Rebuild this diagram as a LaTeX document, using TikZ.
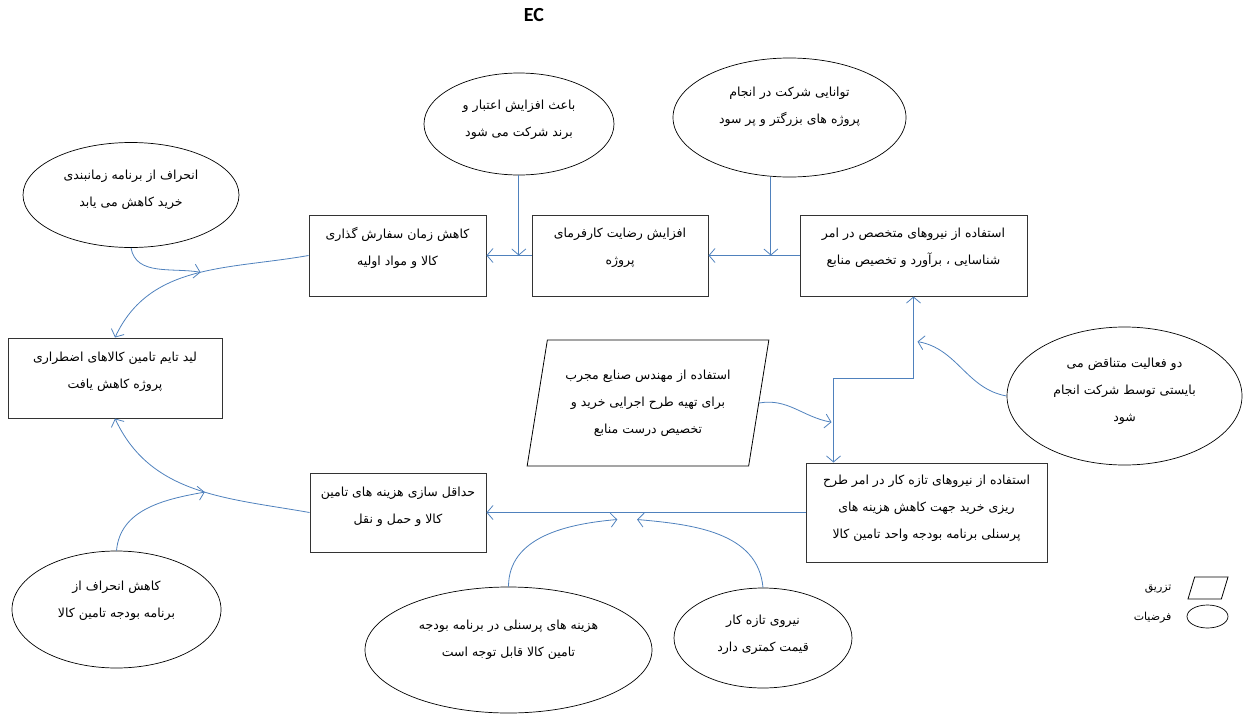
\documentclass[tikz,border=0pt]{standalone}
\usepackage{fontspec}
\newfontfamily\arabicfont[Script=Arabic]{DejaVu Sans}
\newfontfamily\titlefont{Carlito}
\TeXXeTstate=1
\newcommand{\rtlline}[1]{\beginR #1\endR}
\usetikzlibrary{shapes.geometric,arrows.meta}
\definecolor{linkblue}{RGB}{79,129,189}
\tikzset{
  fatext/.style={font=\arabicfont\fontsize{12.5}{27}\selectfont,align=center},
  box/.style={draw=black!80,line width=1pt,rectangle,fatext,inner sep=2pt},
  hyp/.style={draw,line width=0.7pt,ellipse,fatext,inner sep=0pt},
  inject/.style={draw,line width=0.8pt,trapezium,trapezium left angle=76,
    trapezium right angle=104,trapezium stretches=true,fatext,inner sep=0pt},
  link/.style={linkblue,line width=0.8pt,->},
  >={Straight Barb[length=6pt,width=14pt]}
}
\begin{document}
\begin{tikzpicture}[x=1pt,y=1pt]
  \useasboundingbox (0,0) rectangle (1243,-715);
  \node [font=\titlefont\bfseries\fontsize{20}{24}\selectfont] (title) at (534,-15) {EC};
  % top row
  \node [hyp,text depth=13pt,minimum width=216,minimum height=105] (E1) at (131,-195)
    {\rtlline{انحراف از برنامه زمانبندی}\\\rtlline{خرید کاهش می یابد}};
  \node [hyp,text depth=11pt,minimum width=190,minimum height=102] (E2) at (519,-124)
    {\rtlline{باعث افزایش اعتبار و}\\\rtlline{برند شرکت می شود}};
  \node [hyp,text depth=25pt,minimum width=233,minimum height=119] (E3) at (789.5,-117.5)
    {\rtlline{توانایی شرکت در انجام}\\\rtlline{پروژه های بزرگتر و پر سود}};
  \node [box,text depth=18pt,minimum width=177,minimum height=81] (B1) at (397.5,-255.5)
    {\rtlline{کاهش زمان سفارش گذاری}\\\rtlline{کالا و مواد اولیه}};
  \node [box,text depth=18pt,minimum width=176,minimum height=81] (B2) at (620,-255.5)
    {\rtlline{افزایش رضایت کارفرمای}\\\rtlline{پروژه}};
  \node [box,text depth=18pt,minimum width=227,minimum height=81] (B3) at (913.5,-255.5)
    {\rtlline{استفاده از نیروهای متخصص در امر}\\\rtlline{شناسایی ، برآورد و تخصیص منابع}};
  % middle
  \node [box,text depth=15pt,minimum width=214,minimum height=80] (B4) at (115,-378)
    {\rtlline{لید تایم تامین کالاهای اضطراری}\\\rtlline{پروژه کاهش یافت}};
  \node [inject,minimum width=242,minimum height=126] (P) at (648,-403)
    {\rtlline{استفاده از مهندس صنایع مجرب}\\\rtlline{برای تهیه طرح اجرایی خرید و}\\\rtlline{تخصیص درست منابع}};
  \node [hyp,text depth=13pt,minimum width=235,minimum height=138] (E5) at (1124.5,-396)
    {\rtlline{دو فعالیت متناقض می}\\\rtlline{بایستی توسط شرکت انجام}\\\rtlline{شود}};
  % bottom row
  \node [box,text depth=14pt,minimum width=176,minimum height=79] (B5) at (398,-512.5)
    {\rtlline{حداقل سازی هزینه های تامین}\\\rtlline{کالا و حمل و نقل}};
  \node [box,text depth=12pt,minimum width=241,minimum height=99] (B6) at (926.5,-512.5)
    {\rtlline{استفاده از نیروهای تازه کار در امر طرح}\\\rtlline{ریزی خرید جهت کاهش هزینه های}\\\rtlline{پرسنلی برنامه بودجه واحد تامین کالا}};
  \node [hyp,text depth=21pt,minimum width=209,minimum height=117] (E4) at (116.5,-609.5)
    {\rtlline{کاهش انحراف از}\\\rtlline{برنامه بودجه تامین کالا}};
  \node [hyp,text depth=23pt,minimum width=287,minimum height=126] (E6) at (508.5,-650)
    {\rtlline{هزینه های پرسنلی در برنامه بودجه}\\\rtlline{تامین کالا قابل توجه است}};
  \node [hyp,text depth=9pt,minimum width=178,minimum height=100] (E7) at (763,-638)
    {\rtlline{نیروی تازه کار}\\\rtlline{قیمت کمتری دارد}};
  % legend
  \node [inject,inner sep=1pt,minimum width=40,minimum height=22] (keyP) at (1208,-588) {};
  \node [draw,line width=0.7pt,ellipse,minimum width=41,minimum height=23] (keyE) at (1207.5,-616.5) {};
  \node [font=\arabicfont\fontsize{11}{13}\selectfont,anchor=east] (keyPtext) at (1175,-589) {\rtlline{تزریق}};
  \node [font=\arabicfont\fontsize{11}{13}\selectfont,anchor=east] (keyEtext) at (1175,-618) {\rtlline{فرضیات}};
  % connectors
  \draw [link] (B3) -- (B2) coordinate [pos=0.315] (j3);
  \draw [link] (E3.south -| j3) -- (j3);
  \draw [link] (B2) -- (B1) coordinate [pos=0.283] (j2);
  \draw [link] (E2.south -| j2) -- (j2);
  \draw [link] (B1.west) to [out=190,in=65] coordinate [pos=0.47] (j1) (B4.north);
  \draw [link] (E1.south) to [out=-80,in=170] (j1);
  \draw [link] (B5.west) to [out=170,in=-65] coordinate [pos=0.45] (j4) (B4.south);
  \draw [link] (E4.north) to [out=85,in=190] (j4);
  \draw [link] (B6) -- (B5)
    coordinate [pos=0.59] (jA)
    coordinate [pos=0.528] (jB);
  \draw [link] (E6.north) to [out=90,in=185] ([yshift=-7pt]jA);
  \draw [link] (E7.north) to [out=95,in=-5] ([yshift=-7pt]jB);
  \draw [link,<->]
    (B3.south)
    -- ++(0,-82)
      coordinate [pos=0.55] (j5)
    -| ([xshift=28pt]B6.north west)
      coordinate [pos=0.76] (jP)
  ;
  \draw [link] (E5.west) to [out=170,in=-10] ([xshift=4pt]j5);
  \draw [link] (P.east) to [out=10,in=170] ([xshift=-2pt]jP);
\end{tikzpicture}
\end{document}
